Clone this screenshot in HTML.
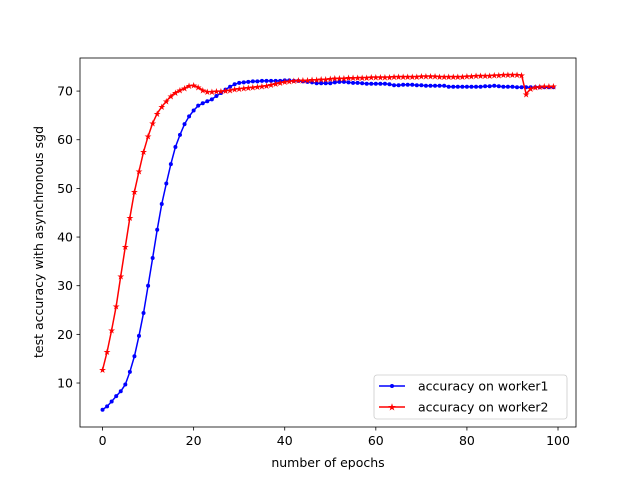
<!DOCTYPE html>
<html><head><meta charset="utf-8"><style>
body{margin:0;background:#fff}
svg{font-family:"DejaVu Sans","Liberation Sans",sans-serif}
</style></head><body>
<svg id="chart" width="640" height="480" viewBox="0 0 640 480" xmlns="http://www.w3.org/2000/svg">
<rect width="640" height="480" fill="#fff"/>
<g id="marks"></g>
<rect x="80" y="58" width="496" height="369" fill="none" stroke="#000" stroke-width="0.8"/>
<g id="axes" font-size="12.5" fill="#000"></g>
<text x="328" y="467" font-size="12.5" text-anchor="middle">number of epochs</text>
<text transform="translate(43,242) rotate(-90)" font-size="12.5" text-anchor="middle">test accuracy with asynchronous sgd</text>
<g>
<rect x="374" y="375" width="193" height="44" rx="3" fill="#fff" fill-opacity="0.8" stroke="#ccc" stroke-width="0.8"/>
<g>
<line x1="379" y1="386" x2="405" y2="386" stroke="blue" stroke-width="1.5"/>
<circle cx="392" cy="386" r="2" fill="blue"/>
<text x="418" y="390.5" font-size="12.5">accuracy on worker1</text></g>
<g>
<line x1="379" y1="407" x2="405" y2="407" stroke="red" stroke-width="1.5"/>
<text x="392" y="410.5" font-size="10" fill="red" text-anchor="middle">★</text>
<text x="418" y="411.5" font-size="12.5">accuracy on worker2</text></g>
</g>
</svg>
<script>
const epochs = Array.from({length:100},(_, i)=>i);
const worker1 = [4.5,5.2,6.2,7.3,8.3,9.7,12.3,15.5,19.7,24.4,
30,35.7,41.5,46.8,51,55,58.5,61,63.2,64.8,
66,67,67.5,67.9,68.3,69,69.6,70.3,70.9,71.4,
71.7,71.8,71.9,72,72,72.1,72.1,72.1,72.1,72.1,
72.2,72.2,72.1,72.1,72,71.9,71.8,71.6,71.6,71.6,
71.6,71.8,71.9,71.9,71.8,71.7,71.7,71.6,71.5,71.5,
71.5,71.5,71.5,71.4,71.2,71.2,71.3,71.3,71.3,71.2,
71.2,71.1,71.1,71.1,71.1,71.1,70.9,70.9,70.9,70.9,
70.9,70.9,70.9,70.9,71,71,71.1,71,70.9,70.9,
70.9,70.8,70.8,70.8,70.8,70.8,70.8,70.8,70.8,70.8];
const worker2 = [12.7,16.4,20.9,25.8,32,38,44,49.3,53.5,57.5,
60.7,63.4,65.4,66.8,67.9,69,69.7,70.2,70.6,71.1,
71.2,70.8,70.2,69.9,69.9,70,70,70.1,70.2,70.4,
70.5,70.6,70.7,70.8,70.9,71,71.1,71.3,71.5,71.7,
71.9,72,72.1,72.2,72.2,72.2,72.3,72.3,72.4,72.4,
72.5,72.6,72.6,72.6,72.7,72.7,72.8,72.8,72.8,72.9,
72.9,72.9,72.9,72.9,73,73,73,73,73,73,
73.1,73.1,73.1,73.1,73,73,73,73,73,73,
73.1,73.1,73.2,73.2,73.2,73.2,73.3,73.3,73.4,73.4,
73.4,73.4,73.3,69.4,70.5,70.8,70.9,71,71,71];
const xTicks = [0,20,40,60,80,100];
const yTicks = [10,20,30,40,50,60,70];

const NS="http://www.w3.org/2000/svg";
const X0=80,X1=576,Y0=427,Y1=58;
const xmin=-4.95,xmax=103.95,ymin=0.96,ymax=76.8;
const sx=v=>X0+(v-xmin)/(xmax-xmin)*(X1-X0);
const sy=v=>Y0-(v-ymin)/(ymax-ymin)*(Y0-Y1);
function mk(tag,attrs,parent){const e=document.createElementNS(NS,tag);for(const k in attrs)e.setAttribute(k,attrs[k]);parent.appendChild(e);return e;}
const axes=document.getElementById('axes');
xTicks.forEach(t=>{
  const g=mk('g',{},axes);
  
  
  mk('line',{x1:sx(t),x2:sx(t),y1:Y0,y2:Y0+3.5,stroke:'#000','stroke-width':0.8},g);
  const tx=mk('text',{x:sx(t),y:Y0+18,'text-anchor':'middle'},g);tx.textContent=t;
});
yTicks.forEach(t=>{
  const g=mk('g',{},axes);
  
  
  mk('line',{x1:X0-3.5,x2:X0,y1:sy(t),y2:sy(t),stroke:'#000','stroke-width':0.8},g);
  const tx=mk('text',{x:X0-7,y:sy(t)+4.5,'text-anchor':'end'},g);tx.textContent=t;
});
const marks=document.getElementById('marks');
function series(data,color,name,star){
  const g=mk('g',{},marks);
  
  
  const pts=data.map((v,i)=>sx(epochs[i])+','+sy(v)).join(' ');
  mk('polyline',{points:pts,fill:'none',stroke:color,'stroke-width':1.5},g);
  data.forEach((v,i)=>{
    if(star){
      const t=mk('text',{x:sx(epochs[i]),y:sy(v)+3.3,'font-size':9,fill:color,'text-anchor':'middle'},g);
      t.textContent='★';
      
      
    }else{
      const c=mk('circle',{cx:sx(epochs[i]),cy:sy(v),r:2,fill:color},g);
      
      
    }
  });
}
series(worker1,'blue','worker1-line',false);
series(worker2,'red','worker2-line',true);
</script>
</body></html>
